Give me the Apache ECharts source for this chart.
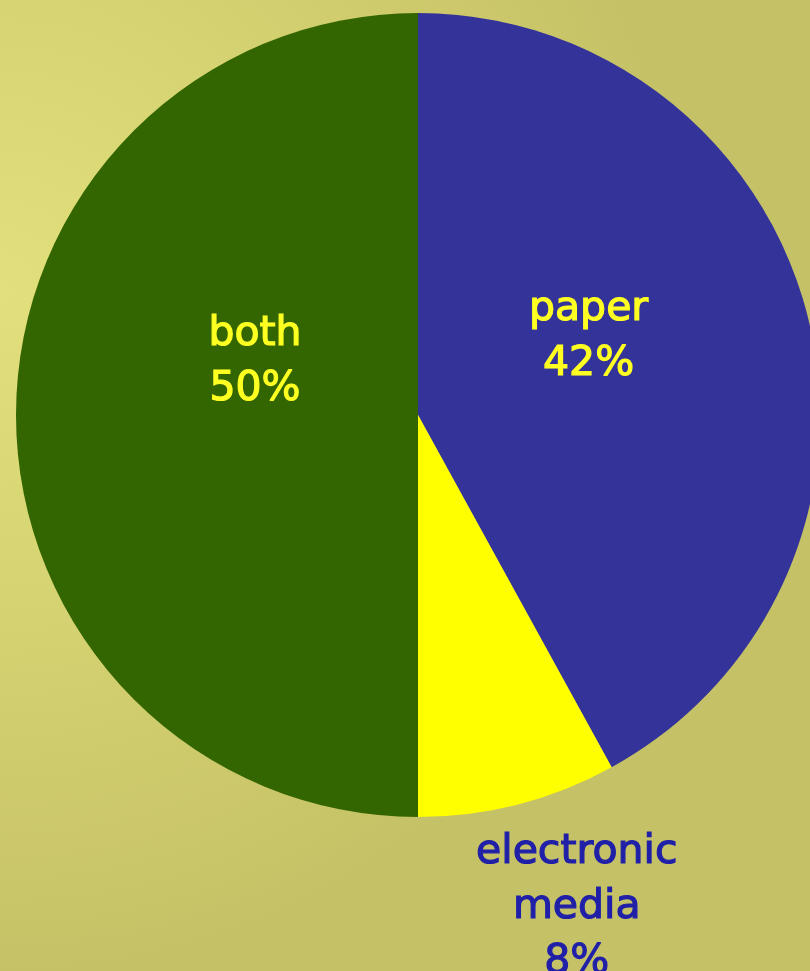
<!DOCTYPE html>
<html>
<head>
<meta charset="utf-8">
<style>html,body{margin:0;padding:0;}#c{width:810px;height:971px;}</style>
<script src="https://cdn.jsdelivr.net/npm/echarts@6/dist/echarts.min.js"></script>
</head>
<body>
<div id="c"></div>
<script>
const categories = ['paper', 'electronic media', 'both'];
const values = [42, 8, 50];
const sliceColors = ['#333399', '#ffff00', '#336600'];
const labelColors = ['#ffff22', '#1f1fa8', '#ffff22'];
const labelOffsets = [[-27, -27], [108, 295], [41, -53]];

const chart = echarts.init(document.getElementById('c'), null, {renderer: 'canvas'});
chart.setOption({
  backgroundColor: {
    type: 'radial', x: 0, y: 0.3, r: 0.85,
    colorStops: [
      {offset: 0, color: '#e2e07c'},
      {offset: 0.45, color: '#d6d372'},
      {offset: 1, color: '#c5c166'}
    ]
  },
  animation: false,
  series: [{
    type: 'pie',
    center: [418, 415],
    radius: [0, 402],
    startAngle: 90,
    clockwise: true,
    avoidLabelOverlap: false,
    labelLine: {show: false},
    itemStyle: {borderWidth: 0},
    emphasis: {disabled: true},
    data: categories.map((c, i) => ({
      name: c,
      value: values[i],
      itemStyle: {color: sliceColors[i]},
      label: {
        show: true,
        position: 'inside',
        offset: labelOffsets[i],
        color: labelColors[i],
        textBorderColor: labelColors[i],
        textBorderWidth: 1.2,
        fontFamily: 'DejaVu Sans',
        fontSize: 41,
        lineHeight: 55,
        align: 'center',
        formatter: p => p.name.replace(' ', '\n') + '\n' + Math.round(p.percent) + '%'
      }
    }))
  }]
});
</script>
</body>
</html>
